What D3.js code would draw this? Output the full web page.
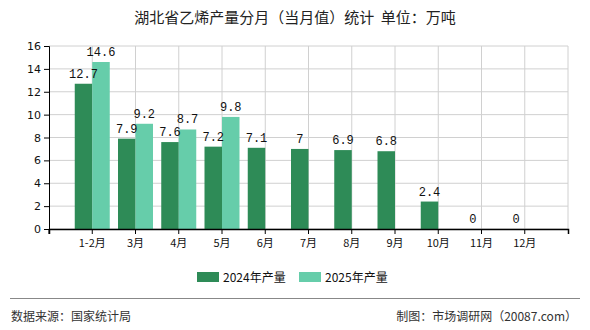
<!DOCTYPE html>
<html>
<head>
<meta charset="utf-8">
<script src="https://cdn.jsdelivr.net/npm/d3@7"></script>
<style>
  html, body { margin: 0; padding: 0; background: #fff; }
  svg { display: block; }
</style>
</head>
<body>
<svg id="chart" width="590" height="330"></svg>
<script>
// Monthly ethylene output, Hubei province (10k tonnes)
const months = ["1-2月", "3月", "4月", "5月", "6月", "7月", "8月", "9月", "10月", "11月", "12月"];
const output2024 = [12.7, 7.9, 7.6, 7.2, 7.1, 7, 6.9, 6.8, 2.4, 0, 0];
const output2025 = [14.6, 9.2, 8.7, 9.8, null, null, null, null, null, null, null];
const yTicks = [0, 2, 4, 6, 8, 10, 12, 14, 16];
const seriesNames = ["2024年产量", "2025年产量"];
const colors = ["#2e8b57", "#66cdaa"];

const svg = d3.select("#chart");
const plotL = 49, plotR = 568, plotT = 46, plotB = 229;
const cjk = "'Noto Sans CJK SC', 'DejaVu Sans', sans-serif";
const mono = "'Liberation Mono', 'DejaVu Sans Mono', monospace";

const x = d3.scaleBand().domain(months).range([plotL, plotR]).paddingInner(0).paddingOuter(0.5);
const y = d3.scaleLinear().domain([0, 16]).range([plotB, plotT]);
const center = m => x(m) + x.bandwidth() / 2;
const barW = 17.5;

// title
svg.append("text").attr("x", 295).attr("y", 23).attr("text-anchor", "middle")
  .attr("font-family", cjk).attr("font-size", 15).attr("fill", "#222")
  .text("湖北省乙烯产量分月（当月值）统计\u00a0\u00a0单位：万吨");

// horizontal grid
svg.append("g").selectAll("line").data(yTicks).join("line")
  .attr("x1", plotL).attr("x2", plotR)
  .attr("y1", d => y(d)).attr("y2", d => y(d))
  .attr("stroke", "#d0d0d0").attr("stroke-width", 1);

// vertical grid at category centres and right edge
const vLines = months.map(center).concat([plotR]);
svg.append("g").selectAll("line").data(vLines).join("line")
  .attr("x1", d => d).attr("x2", d => d)
  .attr("y1", plotT).attr("y2", plotB)
  .attr("stroke", "#d0d0d0").attr("stroke-width", 1);

// bars
const bars = svg.append("g");
bars.selectAll("rect.s24").data(months).join("rect").attr("class", "s24")
  .attr("x", m => center(m) - barW)
  .attr("width", barW)
  .attr("y", (m, i) => y(output2024[i]))
  .attr("height", (m, i) => plotB - y(output2024[i]))
  .attr("fill", colors[0]);
bars.selectAll("rect.s25").data(months.filter((m, i) => output2025[i] != null)).join("rect").attr("class", "s25")
  .attr("x", m => center(m))
  .attr("width", barW)
  .attr("y", m => y(output2025[months.indexOf(m)]))
  .attr("height", m => plotB - y(output2025[months.indexOf(m)]))
  .attr("fill", colors[1]);

// value labels
const labels = svg.append("g").attr("font-family", mono).attr("font-size", 12)
  .attr("fill", "#111").attr("text-anchor", "middle");
months.forEach((m, i) => {
  labels.append("text").attr("x", center(m) - barW / 2).attr("y", y(output2024[i]) - 6).text(output2024[i]);
  if (output2025[i] != null) {
    labels.append("text").attr("x", center(m) + barW / 2).attr("y", y(output2025[i]) - 6).text(output2025[i]);
  }
});

// y axis
const yAxis = d3.axisLeft(y).tickValues(yTicks).tickSize(5).tickFormat(d3.format("d"));
const gy = svg.append("g").attr("transform", `translate(${plotL},0)`).call(yAxis);
gy.select(".domain").attr("stroke", "#000");
gy.selectAll(".tick line").attr("stroke", "#000");
gy.selectAll(".tick text").attr("font-family", "'DejaVu Sans', sans-serif").attr("font-size", 11).attr("fill", "#111");

// x axis
const xAxis = d3.axisBottom(x).tickSize(5).tickSizeOuter(5);
const gx = svg.append("g").attr("transform", `translate(0,${plotB})`).call(xAxis);
gx.select(".domain").attr("stroke", "#000").attr("stroke-width", 1.5);
gx.selectAll(".tick line").attr("stroke", "#000");
gx.selectAll(".tick text").attr("font-family", cjk).attr("font-size", 11).attr("fill", "#111").attr("dy", "0.9em");
gx.append("line").attr("x1", plotL).attr("x2", plotL).attr("y1", 0).attr("y2", 5).attr("stroke", "#000");

// legend
const legend = svg.append("g").attr("font-family", cjk).attr("font-size", 12).attr("fill", "#111");
const legendX = [197, 299];
seriesNames.forEach((name, i) => {
  legend.append("rect").attr("x", legendX[i]).attr("y", 272).attr("width", 22).attr("height", 10).attr("fill", colors[i]);
  legend.append("text").attr("x", legendX[i] + 26).attr("y", 281.5).text(name);
});

// footer
svg.append("line").attr("x1", 10).attr("x2", 580).attr("y1", 298.5).attr("y2", 298.5)
  .attr("stroke", "#888").attr("stroke-width", 1);
svg.append("text").attr("x", 11).attr("y", 321).attr("font-family", cjk).attr("font-size", 12)
  .attr("fill", "#333").text("数据来源：国家统计局");
svg.append("text").attr("x", 577).attr("y", 321).attr("text-anchor", "end").attr("font-family", cjk)
  .attr("font-size", 12).attr("fill", "#333").text("制图：市场调研网（20087.com）");
</script>
</body>
</html>
